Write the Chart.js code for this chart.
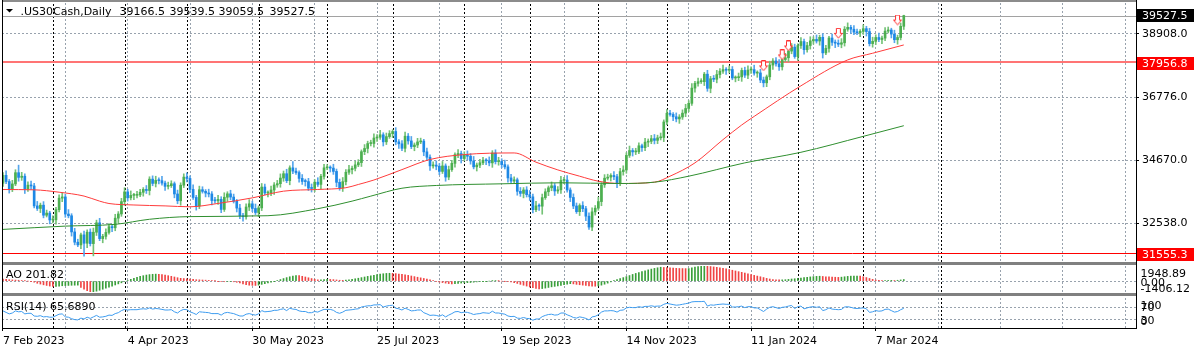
<!DOCTYPE html>
<html><head><meta charset="utf-8">
<script src="https://cdn.jsdelivr.net/npm/chart.js@4.4.1/dist/chart.umd.min.js"></script>
<style>
html,body{margin:0;padding:0;background:#fff;width:1200px;height:352px;overflow:hidden}
.pane{position:absolute;left:0}
canvas{display:block}
</style></head><body>
<div class="pane" style="top:0"><canvas id="cMain" width="1200" height="262"></canvas></div>
<div class="pane" style="top:262px"><canvas id="cAO" width="1200" height="34"></canvas></div>
<div class="pane" style="top:296px"><canvas id="cRSI" width="1200" height="56"></canvas></div>
<script>
// ================= DATA =================
const chartTitle = '.US30Cash,Daily';
const titleOHLC = ['39166.5', '39539.5', '39059.5', '39527.5'];
const dateLabels = ['7 Feb 2023', '4 Apr 2023', '30 May 2023', '25 Jul 2023', '19 Sep 2023', '14 Nov 2023', '11 Jan 2024', '7 Mar 2024'];
const dateLabelBars = [0, 40, 80, 120, 160, 200, 240, 280];
const gridBars = [0, 20, 40, 60, 80, 100, 120, 140, 160, 180, 200, 220, 240, 260, 280, 300, 320, 340, 360];
const monthStartBars = [16, 39, 59, 82, 104, 125, 148, 169, 191, 213, 233, 255, 276, 301];
const priceTicks = [32538.0, 34670.0, 36776.0, 38908.0];
const priceMin = 31244, priceMax = 39950;
const currentPrice = 39527.5;
const levelPrices = [37956.8, 31555.3];

const opens = [
33891,34157,33949,33700,33869,34246,34089,34128,33697,33827,
33800,33130,33045,33154,32817,32889,32657,32662,33004,33391,
33431,32856,32798,32255,31910,31819,32155,31875,32247,31862,
32245,32561,32030,32105,32238,32432,32394,32718,32859,33274,
33601,33402,33483,33485,33500,33587,33685,33647,34030,33886,
33987,33977,33897,33787,33809,33875,33531,33302,33826,34098,
34052,33685,33414,33128,33674,33619,33562,33531,33310,33301,
33349,33012,33421,33536,33427,33287,33056,32800,32765,33093,
33200,33043,32908,33062,33763,33563,33573,33665,33834,33877,
34066,34212,33979,34408,34299,34250,34054,33952,33947,33727,
33715,33927,33853,34122,34408,34418,34400,34289,33922,33735,
33944,34261,34347,34395,34509,34585,34952,35061,35225,35228,
35411,35438,35520,35283,35459,35560,35631,35283,35216,35066,
35473,35314,35123,35176,35281,35308,34946,34766,34475,34501,
34464,34289,34473,34099,34347,34560,34853,34890,34722,34838,
34800,34642,34443,34501,34577,34664,34646,34576,34907,34618,
34624,34518,34441,34070,33964,34007,33619,33550,33666,33508,
33433,33002,33130,33120,33408,33605,33739,33805,33631,33670,
33985,33998,33665,33414,33127,32936,33141,33036,32784,32418,
32929,33053,33275,33839,34061,34096,34153,34112,33892,34283,
34338,34828,34991,34945,34947,35151,35088,35273,35300,35390,
35333,35417,35430,35951,36246,36204,36125,36054,36117,36248,
36405,36578,37090,37248,37305,37306,37558,37082,37404,37386,
37545,37657,37710,37690,37715,37430,37440,37466,37683,37525,
37696,37711,37593,37600,37361,37267,37469,37864,38002,37905,
37806,38049,38109,38333,38467,38150,38520,38654,38380,38521,
38677,38726,38672,38797,38273,38424,38773,38628,38600,38564,
38612,39069,39132,39069,38972,38949,38996,39087,38990,38585,
38661,38791,38723,38770,39005,39043,38906,38715,38790,39166.5];

const highs = [
34247,34307,34019,33989,34346,34500,34258,34208,33937,33967,
33890,33280,33224,33274,32989,32949,32792,33084,33501,33571,
33521,33006,32868,32375,32010,32215,32285,32327,32357,32385,
32651,32711,32175,32358,32532,32492,32848,32939,33384,33741,
33691,33633,33555,33620,33687,33745,33815,34110,34140,34127,
34077,34127,33967,33929,33975,33935,33661,33906,34208,34238,
34142,33835,33484,33794,33774,33679,33692,33611,33420,33489,
33439,33571,33606,33656,33527,33347,33186,32880,33203,33340,
33290,33193,33132,33883,33863,33633,33795,33914,33987,34206,
34302,34362,34478,34620,34399,34310,34184,34032,34057,33867,
34017,34077,34192,34528,34518,34478,34530,34369,34032,34084,
34351,34497,34465,34629,34685,35012,35191,35305,35338,35551,
35528,35670,35590,35579,35660,35691,35761,35363,35326,35613,
35563,35464,35246,35401,35408,35368,35076,34846,34611,34641,
34554,34623,34543,34467,34660,34913,35020,34970,34948,34978,
34890,34792,34571,34697,34764,34724,34776,34987,35017,34764,
34714,34668,34511,34190,34107,34067,33749,33746,33776,33648,
33523,33280,33200,33528,33705,33799,33935,33885,33780,34125,
34088,34148,33735,33534,33227,33201,33271,33116,32894,33069,
33143,33425,33909,34181,34196,34213,34283,34192,34393,34478,
34918,35141,35061,35067,35251,35211,35403,35380,35500,35530,
35507,35580,36021,36366,36346,36264,36255,36197,36358,36545,
36668,37240,37318,37425,37406,37618,37688,37484,37514,37685,
37747,37860,37780,37835,37815,37500,37596,37763,37793,37836,
37801,37861,37670,37720,37461,37529,37994,38082,38112,38045,
38139,38259,38403,38587,38567,38580,38784,38734,38631,38817,
38816,38876,38867,38917,38524,38833,38903,38708,38710,38752,
39159,39282,39202,39189,39072,39056,39217,39167,39100,38801,
38881,38941,38840,39125,39143,39103,39036,38870,39276,39539.5];

const lows = [
33781,33879,33560,33610,33809,33959,33989,33547,33617,33680,
33060,32975,32905,32727,32757,32527,32557,32512,32924,33271,
32746,32728,32115,31820,31759,31689,31440,31725,31782,31450,
32135,31960,31890,32015,32178,32264,32294,32568,32779,33154,
33292,33332,33343,33395,33440,33457,33547,33497,33806,33766,
33867,33827,33647,33697,33749,33401,33202,33152,33746,33932,
33575,33344,32988,33038,33559,33432,33431,33160,33221,33181,
32902,32942,33281,33337,33227,32926,32700,32615,32685,32973,
32933,32838,32768,32972,33503,33433,33473,33515,33754,33757,
33956,33909,33839,34209,34190,33924,33852,33797,33647,33595,
33605,33783,33713,34032,34348,34270,34189,33772,33655,33615,
33834,34191,34207,34305,34449,34455,34852,34911,35145,35108,
35301,35368,35143,35193,35399,35430,35183,35066,34986,34946,
35204,35053,34983,35086,35221,34816,34666,34325,34395,34344,
34179,34219,33959,34009,34287,34430,34753,34572,34642,34680,
34532,34373,34303,34411,34517,34516,34476,34426,34538,34498,
34408,34371,33930,33874,33904,33489,33450,33400,33428,33313,
32892,32932,32980,32850,33348,33475,33639,33481,33551,33550,
33875,33595,33274,33037,32876,32806,32936,32634,32338,32298,
32819,32983,33135,33749,34001,33966,34012,33742,33812,34163,
34228,34758,34805,34855,34887,34958,34988,35123,35220,35213,
35223,35347,35290,35861,36144,35995,35954,35904,36037,36128,
36295,36508,36950,37158,37245,37176,36982,36932,37306,37266,
37435,37587,37550,37600,37370,37300,37340,37316,37445,37405,
37586,37523,37453,37271,37130,37137,37369,37714,37825,37686,
37696,37979,37969,38243,38090,38020,38420,38230,38300,38401,
38567,38602,38532,38100,38213,38294,38528,38450,38484,38444,
38502,38999,38929,38882,38889,38819,38896,38840,38505,38465,
38551,38653,38583,38680,38945,38776,38615,38565,38710,39059.5];

const closes = [
34157,33949,33700,33869,34246,34089,34128,33697,33827,33800,
33130,33045,33154,32817,32889,32657,32662,33004,33391,33431,
32856,32798,32255,31910,31819,32155,31875,32247,31862,32245,
32561,32030,32105,32238,32432,32394,32718,32859,33274,33601,
33402,33483,33485,33500,33587,33685,33647,34030,33886,33987,
33977,33897,33787,33809,33875,33531,33302,33826,34098,34052,
33685,33414,33128,33674,33619,33562,33531,33310,33301,33349,
33012,33421,33536,33427,33287,33056,32800,32765,33093,33200,
33043,32908,33062,33763,33563,33573,33665,33834,33877,34066,
34212,33979,34408,34299,34250,34054,33952,33947,33727,33715,
33927,33853,34122,34408,34418,34400,34289,33922,33735,33944,
34261,34347,34395,34509,34585,34952,35061,35225,35228,35411,
35438,35520,35283,35459,35560,35631,35283,35216,35066,35473,
35314,35123,35176,35281,35308,34946,34766,34475,34501,34464,
34289,34473,34099,34347,34560,34853,34890,34722,34838,34800,
34642,34443,34501,34577,34664,34646,34576,34907,34618,34624,
34518,34441,34070,33964,34007,33619,33550,33666,33508,33433,
33002,33130,33120,33408,33605,33739,33805,33631,33670,33985,
33998,33665,33414,33127,32936,33141,33036,32784,32418,32929,
33053,33275,33839,34061,34096,34153,34112,33892,34283,34338,
34828,34991,34945,34947,35151,35088,35273,35300,35390,35333,
35417,35430,35951,36246,36204,36125,36054,36117,36248,36405,
36578,37090,37248,37305,37306,37558,37082,37404,37386,37545,
37657,37710,37690,37715,37430,37440,37466,37683,37525,37696,
37711,37593,37600,37361,37267,37469,37864,38002,37905,37806,
38049,38109,38333,38467,38150,38520,38654,38380,38521,38677,
38726,38672,38797,38273,38424,38773,38628,38600,38564,38612,
39069,39132,39069,38972,38949,38996,39087,38990,38585,38661,
38791,38723,38770,39005,39043,38906,38715,38790,39166,39527.5];

const maFastBars = [0,10,18,26,31,34,42,52,60,69,80,90,101,110,114,119,128,137,148,164,171,178,185,191,198,209,214,222,231,237,241,256,271,279,289];
const maFastValues = [33680,33670,33590,33460,33290,33210,33160,33130,33100,33213,33400,33625,33682,33740,33850,34000,34350,34690,34855,34910,34600,34340,34128,33960,33883,33927,34128,34576,35357,35850,36138,37166,38037,38261,38540];
const maSlowBars = [0,20,36,47,60,85,101,112,118,128,139,160,179,198,209,220,238,256,276,289];
const maSlowValues = [32340,32450,32510,32680,32770,32800,33035,33290,33458,33724,33816,33872,33906,33883,33927,34128,34576,34932,35467,35825];

const arrowBars = [244, 250, 252, 268, 287];
const arrowPrices = [37836, 38205, 38506, 38930, 39378];

const aoCurrent = '201.82';
const aoMax = 1948.89, aoMin = -1406.12;
const aoValues = [
250,220,180,150,130,110,80,40,0,-40,
-150,-280,-380,-480,-560,-640,-700,-690,-650,-600,
-580,-560,-540,-530,-520,-800,-1050,-1250,-1406,-1380,
-1300,-1180,-1050,-920,-780,-640,-500,-360,-220,-80,
80,230,370,500,610,700,780,840,880,900,
880,840,780,700,620,530,440,360,330,300,
270,230,180,160,140,120,100,60,20,-20,
-60,-80,-70,-60,-90,-150,-250,-350,-450,-530,
-550,-560,-520,-420,-330,-250,-150,-40,80,200,
330,450,560,650,720,700,620,530,430,330,
240,160,170,200,220,210,190,150,110,100,
130,180,240,300,370,450,530,610,680,750,
830,900,950,990,1010,1000,970,920,860,800,
740,660,580,500,420,340,250,150,40,-50,
-120,-190,-260,-320,-350,-340,-300,-250,-220,-200,
-180,-140,-100,-60,-40,-20,0,20,30,20,
0,-20,-60,-120,-200,-300,-420,-530,-640,-760,
-860,-950,-1000,-960,-900,-820,-740,-680,-620,-560,
-450,-380,-330,-360,-420,-470,-520,-570,-620,-650,
-660,-620,-520,-400,-260,-100,60,200,330,450,
580,720,860,990,1110,1230,1340,1450,1550,1640,
1720,1790,1760,1730,1700,1680,1650,1630,1620,1610,
1620,1700,1800,1880,1940,1948.89,1920,1880,1830,1780,
1720,1650,1570,1490,1400,1310,1220,1130,1040,940,
840,740,650,560,460,350,270,200,170,150,
160,180,220,270,300,350,400,440,490,540,
580,610,630,600,560,550,530,500,480,510,
560,610,640,650,660,650,560,460,340,230,
140,90,60,70,90,100,80,110,150,201.82];

const rsiCurrent = '65.6890';
const rsiLevels = [70, 30];
const rsiAxisLabels = ['100', '70', '30', '0'];
const rsiValues = [
57,52,47,50,57,54,55,47,49,49,
40,39,41,37,38,36,36,41,46,47,
37,36,31,28,27,33,30,36,32,37,
42,36,37,39,43,42,48,51,58,62,
60,61,61,61,63,64,63,67,63,65,
64,62,60,60,61,54,50,58,62,61,
54,50,45,54,53,52,51,48,48,48,
43,50,52,50,48,44,40,40,46,48,
45,43,47,58,54,55,56,59,59,62,
64,58,66,63,62,57,55,55,51,51,
55,53,58,62,62,62,59,52,49,53,
59,60,61,63,64,70,72,74,74,77,
77,78,70,73,75,76,66,64,60,66,
62,57,58,60,60,51,47,42,43,42,
39,44,37,43,48,54,55,51,53,52,
49,45,47,48,51,50,49,56,50,50,
48,46,40,38,39,33,32,35,32,31,
26,30,30,38,42,45,46,43,44,50,
50,44,40,35,33,37,35,32,27,37,
39,44,53,57,57,58,57,53,59,60,
67,69,68,68,71,69,72,72,74,72,
73,73,79,82,80,78,76,77,79,81,
83,87,88,88,88,89,73,77,76,78,
79,80,79,79,70,70,71,73,68,71,
71,67,67,61,55,63,69,71,68,65,
69,70,73,75,65,71,73,64,67,70,
71,69,71,58,61,67,63,62,61,62,
70,71,69,66,65,66,67,64,52,54,
58,56,57,62,63,58,53,55,61,65.689];

// ================= STYLE =================
const FONT = 'DejaVu Sans';
Chart.defaults.font.family = FONT;
Chart.defaults.font.size = 11;
Chart.defaults.color = '#000';
const GRID = '#98a2ad';
const SEP = '#000';
const BULL = '#4caf50', BEAR = '#1e88e5', WICK_UP = '#74c276', WICK_DN = '#55a6ec';
const LEVEL_COLORS = ['#ff7474', '#ff0000'];
const LEVEL_WIDTHS = [2, 1];
const X_MIN = -0.32, X_MAX = 363.5;

function px(v) { return Math.round(v) + 0.5; }
function hline(ctx, a, y, color, w) {
  ctx.strokeStyle = color; ctx.lineWidth = w;
  const Y = (w % 2) ? px(y) : Math.round(y);
  ctx.beginPath(); ctx.moveTo(a.left, Y); ctx.lineTo(a.right, Y); ctx.stroke();
}
function priceBox(ctx, yc, bg, text) {
  const top = Math.floor(yc - 6);
  ctx.fillStyle = bg; ctx.fillRect(1137, top, 57, 13);
  ctx.fillStyle = '#fff'; ctx.textBaseline = 'middle'; ctx.textAlign = 'left';
  ctx.fillText(text, 1142, top + 7);
}

const paneDecor = {
  id: 'paneDecor',
  beforeDatasetsDraw(chart, args, o) {
    const ctx = chart.ctx, a = chart.chartArea, xs = chart.scales.x, ys = chart.scales.y;
    ctx.save();
    ctx.lineWidth = 1; ctx.strokeStyle = SEP; ctx.setLineDash([2, 2]);
    const top = o.kind === 'main' ? 0 : a.top;
    for (const b of monthStartBars) {
      const X = px(xs.getPixelForValue(b));
      if (X <= a.left || X >= a.right) continue;
      ctx.beginPath(); ctx.moveTo(X, top); ctx.lineTo(X, a.bottom); ctx.stroke();
    }
    ctx.setLineDash([]);
    if (o.kind === 'main') {
      hline(ctx, a, ys.getPixelForValue(currentPrice), '#a2a2a2', 1);
      levelPrices.forEach((p, k) => hline(ctx, a, ys.getPixelForValue(p), LEVEL_COLORS[k], LEVEL_WIDTHS[k]));
    }
    ctx.restore();
  },
  afterDraw(chart, args, o) {
    const ctx = chart.ctx, ys = chart.scales.y, H = chart.height;
    ctx.save();
    ctx.font = '11px "' + FONT + '"';
    ctx.textAlign = 'left';
    if (o.kind === 'main') {
      ctx.fillStyle = '#8c8c8c'; ctx.fillRect(2, 0, 1135, 2);
      ctx.fillStyle = '#000'; ctx.fillRect(2, 0, 1, H); ctx.fillRect(1136, 0, 1, H);
      priceBox(ctx, ys.getPixelForValue(currentPrice), '#000', currentPrice.toFixed(1));
      levelPrices.forEach(p => priceBox(ctx, ys.getPixelForValue(p) + 1.5, '#ff0000', p.toFixed(1)));
      ctx.fillStyle = '#000';
      ctx.beginPath(); ctx.moveTo(6, 9); ctx.lineTo(13, 9); ctx.lineTo(9.5, 12.5); ctx.closePath(); ctx.fill();
      ctx.textBaseline = 'alphabetic';
      const tx = [20.5, 119.5, 169.5, 218.5, 269.5];
      [chartTitle].concat(titleOHLC).forEach((t, k) => ctx.fillText(t, tx[k], 15));
    } else if (o.kind === 'ao') {
      ctx.fillStyle = '#808080'; ctx.fillRect(2, 0, 1135, 3); ctx.fillRect(2, 31, 1135, 3);
      ctx.fillStyle = '#000'; ctx.fillRect(2, 0, 1, H); ctx.fillRect(1136, 0, 1, H);
      ctx.textBaseline = 'alphabetic';
      ctx.fillText('AO ' + aoCurrent, 6, 16);
      ctx.fillText(aoMax.toFixed(2), 1140.5, 15);
      ctx.fillText((0).toFixed(2), 1140.5, 23.5);
      ctx.fillText(aoMin.toFixed(2), 1140.5, 29.5);
    } else if (o.kind === 'rsi') {
      ctx.fillStyle = '#000'; ctx.fillRect(2, 0, 1, 33); ctx.fillRect(1136, 0, 1, 33); ctx.fillRect(2, 32, 1135, 1);
      ctx.textBaseline = 'alphabetic';
      ctx.fillText('RSI(14) ' + rsiCurrent, 6, 14);
      const ly = [13, 15, 27.5, 28.5];
      rsiAxisLabels.forEach((t, k) => ctx.fillText(t, 1140.5, ly[k]));
    }
    ctx.restore();
  }
};

function xScale(showLabels) {
  return {
    type: 'linear', min: X_MIN, max: X_MAX, offset: false,
    afterBuildTicks: s => { s.ticks = gridBars.map(v => ({ value: v })); },
    grid: {
      offset: false, lineWidth: 1,
      color: c => (c.tick && c.tick.value > 0) ? GRID : 'rgba(0,0,0,0)',
      drawTicks: showLabels, tickLength: 3, tickWidth: 1,
      tickColor: c => (c.tick && dateLabelBars.includes(c.tick.value)) ? '#000' : 'rgba(0,0,0,0)'
    },
    border: { display: false, dash: [2, 2] },
    ticks: showLabels ? {
      display: true, autoSkip: false, maxRotation: 0, minRotation: 0, align: 'start', padding: 4,
      color: '#000', font: { family: FONT, size: 11 },
      callback: v => { const k = dateLabelBars.indexOf(v); return k >= 0 ? dateLabels[k] : ''; }
    } : { display: false },
    afterFit: s => { s.height = showLabels ? 24 : 0; s.paddingLeft = 0; s.paddingRight = 0; }
  };
}
function yScale(min, max, tickVals, showLabels) {
  return {
    type: 'linear', position: 'right', min: min, max: max,
    afterBuildTicks: s => { s.ticks = tickVals.map(v => ({ value: v })); },
    grid: { color: GRID, lineWidth: 1, drawTicks: showLabels, tickLength: 3, tickColor: '#000', tickWidth: 1 },
    border: { display: false, dash: [2, 2] },
    ticks: showLabels ? { display: true, padding: 3, color: '#000', font: { family: FONT, size: 11 }, callback: v => Number(v).toFixed(1) } : { display: false },
    afterFit: s => { s.width = 64; s.paddingTop = 0; s.paddingBottom = 0; }
  };
}
const common = (kind, padTop, padBottom) => ({
  responsive: false, animation: false, devicePixelRatio: 1, events: [],
  layout: { autoPadding: false, padding: { left: 2, right: 0, top: padTop, bottom: padBottom } },
  plugins: { legend: { display: false }, tooltip: { enabled: false }, paneDecor: { kind: kind } }
});

// arrow marker
const arrowImg = document.createElement('canvas');
arrowImg.width = 9; arrowImg.height = 11;
(function () {
  const c = arrowImg.getContext('2d');
  c.beginPath();
  c.moveTo(2.5, 0.5); c.lineTo(6.5, 0.5); c.lineTo(6.5, 5.5); c.lineTo(8.5, 5.5);
  c.lineTo(4.5, 10.2); c.lineTo(0.5, 5.5); c.lineTo(2.5, 5.5); c.closePath();
  c.fillStyle = '#fff'; c.fill(); c.strokeStyle = '#ff3030'; c.lineWidth = 1; c.stroke();
})();

const idx = closes.map((_, i) => i);
const isUp = i => closes[i] >= opens[i];

// ================= MAIN =================
new Chart(document.getElementById('cMain'), {
  type: 'bar',
  data: {
    datasets: [
      { type: 'bar', data: idx.map(i => ({ x: i, y: [lows[i], highs[i]] })), barThickness: 1, grouped: false,
        backgroundColor: c => isUp(c.dataIndex) ? WICK_UP : WICK_DN, order: 4 },
      { type: 'bar', data: idx.map(i => ({ x: i, y: [opens[i], closes[i]] })), barThickness: 2, minBarLength: 1, grouped: false,
        backgroundColor: c => isUp(c.dataIndex) ? BULL : BEAR, order: 3 },
      { type: 'line', data: maFastBars.map((b, k) => ({ x: b, y: maFastValues[k] })), borderColor: '#ff3c3c', borderWidth: 1,
        pointRadius: 0, cubicInterpolationMode: 'monotone', order: 2 },
      { type: 'line', data: maSlowBars.map((b, k) => ({ x: b, y: maSlowValues[k] })), borderColor: '#2f8f2f', borderWidth: 1,
        pointRadius: 0, cubicInterpolationMode: 'monotone', order: 1 },
      { type: 'scatter', data: arrowBars.map((b, k) => ({ x: b, y: arrowPrices[k] })), pointStyle: arrowImg, pointRadius: 5, order: 0 }
    ]
  },
  options: Object.assign(common('main', 3, 0), {
    scales: { x: xScale(false), y: yScale(priceMin, priceMax, priceTicks, true) }
  }),
  plugins: [paneDecor]
});

// ================= AO =================
new Chart(document.getElementById('cAO'), {
  type: 'bar',
  data: {
    datasets: [{ type: 'bar', data: aoValues.map((v, i) => ({ x: i, y: v })), barThickness: 1, grouped: false,
      backgroundColor: c => (c.dataIndex > 0 && aoValues[c.dataIndex] > aoValues[c.dataIndex - 1]) ? '#3a9f3a' : '#f04444' }]
  },
  options: Object.assign(common('ao', 4, 4), {
    scales: { x: xScale(false), y: yScale(aoMin, aoMax, [0], false) }
  }),
  plugins: [paneDecor]
});

// ================= RSI =================
new Chart(document.getElementById('cRSI'), {
  type: 'line',
  data: {
    datasets: [{ data: rsiValues.map((v, i) => ({ x: i, y: v })), borderColor: '#3d9cf0', borderWidth: 1, pointRadius: 0, tension: 0 }]
  },
  options: Object.assign(common('rsi', 2, 0), {
    scales: { x: xScale(true), y: yScale(0, 100, rsiLevels, false) }
  }),
  plugins: [paneDecor]
});
</script>
</body></html>
